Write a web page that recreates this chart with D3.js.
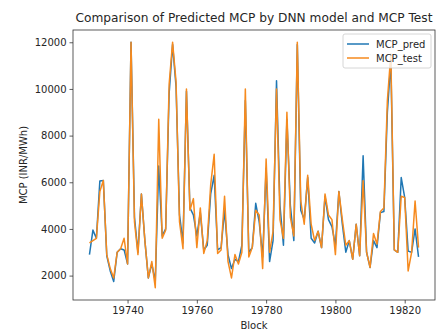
<!DOCTYPE html>
<html>
<head>
<meta charset="utf-8">
<script src="https://cdn.jsdelivr.net/npm/d3@7"></script>
<style>
  body { margin: 0; background: #fff; }
  text { font-family: "DejaVu Sans", sans-serif; fill: #262626; }
</style>
</head>
<body>
<div id="body"></div>
<script>
// blocks 19729 .. 19824
var blocks = d3.range(19729, 19825);

var mcpPred = [
  2900, 3950, 3600, 6050, 6080, 2850, 2200, 1750, 3000, 3150,
  3100, 2500, 12000, 4500, 3000, 5500, 3500, 1900, 2500, 1750,
  6700, 3700, 4000, 9800, 11900, 10100, 4600, 3400, 9900, 4900,
  4600, 3700, 4700, 3100, 3300, 5500, 6300, 3100, 3200, 4800,
  2900, 2300, 2700, 2600, 3300, 9500, 3000, 3200, 5100, 4300,
  2800, 6600, 2600, 3500, 10350, 5000, 3300, 8700, 5000, 3500,
  11900, 4800, 4400, 6200, 3600, 3400, 3900, 3200, 5400, 4400,
  4100, 3300, 5600, 4200, 3000, 3500, 2700, 4200, 2850, 7140,
  3000, 2350, 3500, 3200, 4700, 4750, 9000, 11200, 3100, 3000,
  6200, 5350, 3050, 3000, 4000, 2800
];

var mcpTest = [
  3400, 3500, 3600, 5600, 6080, 2900, 2300, 1900, 3000, 3150,
  3600, 2500, 12000, 4300, 2900, 5500, 3500, 1900, 2600, 1480,
  8700, 3600, 3950, 10200, 12000, 10300, 4300, 3150, 10000, 4800,
  5300, 3200, 4900, 2950, 3500, 5900, 7200, 2950, 3100, 5400,
  2600, 1900, 2900, 2500, 3000, 10000, 2800, 3200, 4800, 4600,
  2300, 7000, 3000, 3900, 10000, 4400, 3600, 9000, 4500, 3700,
  12000, 5200, 4200, 6300, 4200, 3500, 3900, 3200, 5500, 4600,
  4400, 2900, 5600, 4400, 3300, 3500, 2700, 4200, 2850, 6070,
  3000, 2350, 3800, 3350, 4750, 4900, 9500, 11500, 3100, 3000,
  5400, 5350, 2200, 3000, 5200, 3200
];

var xTicks = [19740, 19760, 19780, 19800, 19820];
var yTicks = [2000, 4000, 6000, 8000, 10000, 12000];

var seriesNames = ["MCP_pred", "MCP_test"];
var seriesColors = ["#1f77b4", "#f68a1e"];

var W = 444, H = 334;
var margin = { top: 30, right: 9, bottom: 34, left: 73 };

var svg = d3.select("#body").append("svg")
    .attr("width", W)
    .attr("height", H);

// matplotlib style 5% padding
function padded(ext) {
    var r = ext[1] - ext[0];
    return [ext[0] - 0.05 * r, ext[1] + 0.05 * r];
}

var x = d3.scaleLinear()
    .domain(padded(d3.extent(blocks)))
    .range([margin.left, W - margin.right]);

var allVals = mcpPred.concat(mcpTest);
var y = d3.scaleLinear()
    .domain(padded(d3.extent(allVals)))
    .range([H - margin.bottom, margin.top]);

var line = d3.line()
    .x((d, i) => x(blocks[i]))
    .y(d => y(d));

[mcpPred, mcpTest].forEach((s, k) => {
    svg.append("path")
        .datum(s)
        .attr("fill", "none")
        .attr("stroke", seriesColors[k])
        .attr("stroke-width", 1.5)
        .attr("stroke-linejoin", "round")
        .attr("d", line);
});

var xAxis = svg.append("g")
    .attr("transform", "translate(0," + (H - margin.bottom) + ")")
    .call(d3.axisBottom(x).tickValues(xTicks).tickFormat(d3.format("d")).tickSizeOuter(0).tickSize(3.5).tickPadding(3));

var yAxis = svg.append("g")
    .attr("transform", "translate(" + margin.left + ",0)")
    .call(d3.axisLeft(y).tickValues(yTicks).tickFormat(d3.format("d")).tickSizeOuter(0).tickSize(3.5).tickPadding(3));

[xAxis, yAxis].forEach(g => {
    g.select(".domain").remove();
    g.selectAll("line").attr("stroke", "#333").attr("stroke-width", 0.8);
    g.selectAll("text").style("font-size", "10px").attr("fill", "#333");
});

// frame
svg.append("rect")
    .attr("x", margin.left)
    .attr("y", margin.top)
    .attr("width", W - margin.left - margin.right)
    .attr("height", H - margin.top - margin.bottom)
    .attr("fill", "none")
    .attr("stroke", "#333")
    .attr("stroke-width", 0.8);

svg.append("text")
    .attr("x", (margin.left + W - margin.right) / 2)
    .attr("y", 22)
    .attr("text-anchor", "middle")
    .style("font-size", "12.2px")
    .text("Comparison of Predicted MCP by DNN model and MCP Test");

svg.append("text")
    .attr("x", (margin.left + W - margin.right) / 2)
    .attr("y", 329)
    .attr("text-anchor", "middle")
    .style("font-size", "10px")
    .text("Block");

svg.append("text")
    .attr("transform", "translate(27," + ((margin.top + H - margin.bottom) / 2) + ") rotate(-90)")
    .attr("text-anchor", "middle")
    .style("font-size", "10px")
    .text("MCP (INR/MWh)");

// legend
var leg = svg.append("g").attr("transform", "translate(343,34)");
leg.append("rect")
    .attr("width", 88)
    .attr("height", 34)
    .attr("rx", 2)
    .attr("fill", "#fff")
    .attr("fill-opacity", 0.8)
    .attr("stroke", "#ccc")
    .attr("stroke-width", 0.8);

seriesNames.forEach((n, k) => {
    var yy = 10 + k * 14;
    leg.append("line")
        .attr("x1", 4).attr("x2", 26)
        .attr("y1", yy).attr("y2", yy)
        .attr("stroke", seriesColors[k])
        .attr("stroke-width", 1.5);
    leg.append("text")
        .attr("x", 33)
        .attr("y", yy + 3.5)
        .style("font-size", "10px")
        .text(n);
});
</script>
</body>
</html>
